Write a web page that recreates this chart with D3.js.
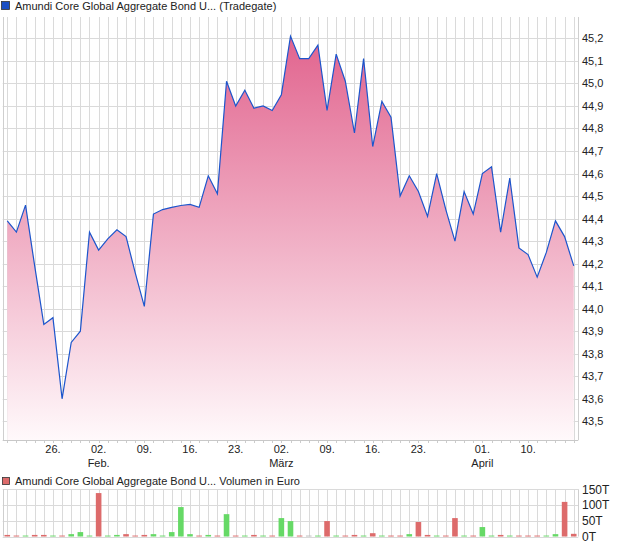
<!DOCTYPE html>
<html><head><meta charset="utf-8">
<script src="https://cdn.jsdelivr.net/npm/d3@7"></script>
<style>
body{margin:0;background:#fff}
svg{display:block}
text{font-family:"Liberation Sans",Arial,sans-serif}
</style>
</head><body>
<svg id="c" width="620" height="546"></svg>
<script>
// ---------- data ----------
const dates = [
 "2026-01-19","2026-01-20","2026-01-21","2026-01-22","2026-01-23",
 "2026-01-26","2026-01-27","2026-01-28","2026-01-29","2026-01-30",
 "2026-02-02","2026-02-03","2026-02-04","2026-02-05","2026-02-06",
 "2026-02-09","2026-02-10","2026-02-11","2026-02-12","2026-02-13",
 "2026-02-16","2026-02-17","2026-02-18","2026-02-19","2026-02-20",
 "2026-02-23","2026-02-24","2026-02-25","2026-02-26","2026-02-27",
 "2026-03-02","2026-03-03","2026-03-04","2026-03-05","2026-03-06",
 "2026-03-09","2026-03-10","2026-03-11","2026-03-12","2026-03-13",
 "2026-03-16","2026-03-17","2026-03-18","2026-03-19","2026-03-20",
 "2026-03-23","2026-03-24","2026-03-25","2026-03-26","2026-03-27",
 "2026-03-30","2026-03-31","2026-04-01","2026-04-02",
 "2026-04-07","2026-04-08","2026-04-09","2026-04-10",
 "2026-04-13","2026-04-14","2026-04-15","2026-04-16","2026-04-17"
];
const prices = [
 44.39,44.34,44.46,44.19,43.93, 43.96,43.60,43.85,43.90,44.34,
 44.26,44.31,44.35,44.32,44.16, 44.01,44.42,44.44,44.45,44.458,
 44.463,44.45,44.59,44.51,45.01, 44.90,44.97,44.89,44.90,44.88,
 44.95,45.21,45.11,45.11,45.17, 44.88,45.13,45.01,44.78,45.11,
 44.72,44.92,44.85,44.50,44.59, 44.52,44.41,44.60,44.44,44.30,
 44.52,44.42,44.60,44.63,44.34, 44.58,44.27,44.24,44.14,44.25,
 44.39,44.32,44.19
];
// volume in thousands of euro (T)
const volumes = [
 5,3,3,5,5, 3,3,7.5,14,3,
 138,3,5,7.5,3, 5,7.5,3,14,93.5,
 7.5,3,5,3,71, 3,3,5,3,3,
 58.5,49,3,3,3, 49,3,3,5,3,
 10.5,3,3,3,7.5, 46,5,3,3,58.5,
 3,3,30,3,5, 3,3,3,3,3,
 7.5,110,8.5
];
// 1 = up (green), -1 = down (red), 0 = unchanged (grey)
const volumeDir = [
 -1,-1,1,-1,-1, 1,-1,1,1,1,
 -1,1,1,-1,-1, -1,1,1,1,1,
 1,-1,1,-1,1, -1,1,-1,1,-1,
 1,1,-1,0,1, -1,1,-1,-1,1,
 -1,1,-1,-1,1, -1,-1,1,-1,-1,
 1,-1,1,1,-1, 1,-1,-1,-1,1,
 1,-1,-1
];
const priceTicks = [43.5,43.6,43.7,43.8,43.9,44.0,44.1,44.2,44.3,44.4,44.5,44.6,44.7,44.8,44.9,45.0,45.1,45.2];
const volumeTicks = [0,50,100,150];
const volumeTickLabels = ["0T","50T","100T","150T"];
const dayTickDates = ["2026-01-26","2026-02-02","2026-02-09","2026-02-16","2026-02-23","2026-03-02","2026-03-09","2026-03-16","2026-03-23","2026-04-01","2026-04-10"];
const dayTickLabels = ["26.","02.","09.","16.","23.","02.","09.","16.","23.","01.","10."];
const monthTickDates = ["2026-02-02","2026-03-02","2026-04-01"];
const monthTickLabels = ["Feb.","März","April"];
const priceTitle = "Amundi Core Global Aggregate Bond U... (Tradegate)";
const volumeTitle = "Amundi Core Global Aggregate Bond U... Volumen in Euro";

// ---------- layout ----------
const L = 2.7, R = 578.3;
const mainTop = 17, mainBottom = 440;
const volTop = 489.3, volBottom = 536.5;
const gridColor = "#dadada";
const textColor = "#222";

const svg = d3.select("#c");
const n = dates.length;
const x = d3.scaleLinear().domain([-0.5, n - 0.5]).range([L, R]);
const y = d3.scaleLinear().domain([43.417, 45.295]).range([mainBottom, mainTop]);
const yv = d3.scaleLinear().domain([0, 150]).range([volBottom, volTop]);
const idx = d => dates.indexOf(d);
const crisp = v => Math.round(v) + 0.5;

// gradient
const defs = svg.append("defs");
const grad = defs.append("linearGradient").attr("id","g")
  .attr("gradientUnits","userSpaceOnUse").attr("x1",0).attr("x2",0)
  .attr("y1",mainTop).attr("y2",mainBottom);
grad.append("stop").attr("offset","0%").attr("stop-color","#e05d89");
grad.append("stop").attr("offset","100%").attr("stop-color","#fff9fb");

// ---------- main panel ----------
// legend
svg.append("rect").attr("x",1.5).attr("y",1.5).attr("width",8).attr("height",8)
  .attr("fill","#1a4fc4").attr("stroke","#333").attr("stroke-width",0.8);
svg.append("text").attr("x",15).attr("y",10).attr("font-size",11).attr("fill",textColor).text(priceTitle);

const gMain = svg.append("g");
// vertical grid per trading day
gMain.selectAll("line.vg").data(d3.range(n)).join("line")
  .attr("x1", i => crisp(x(i))).attr("x2", i => crisp(x(i)))
  .attr("y1", mainTop).attr("y2", mainBottom)
  .attr("stroke", gridColor).attr("stroke-width",1);
// horizontal grid
gMain.selectAll("line.hg").data(priceTicks).join("line")
  .attr("x1", L).attr("x2", R)
  .attr("y1", d => crisp(y(d))).attr("y2", d => crisp(y(d)))
  .attr("stroke", gridColor).attr("stroke-width",1);
// frame sides
[L, R].forEach(px => gMain.append("line").attr("x1",crisp(px)).attr("x2",crisp(px))
  .attr("y1",mainTop).attr("y2",mainBottom).attr("stroke","#cfcfcf"));

// area + line
const area = d3.area().x((d,i) => x(i)).y0(mainBottom).y1(d => y(d));
const line = d3.line().x((d,i) => x(i)).y(d => y(d));
gMain.append("path").datum(prices).attr("d", area).attr("fill","url(#g)");
gMain.append("path").datum(prices).attr("d", line).attr("fill","none")
  .attr("stroke","#1c55cc").attr("stroke-width",1.2).attr("stroke-linejoin","miter");

// bottom axis line + small ticks
gMain.append("line").attr("x1",L).attr("x2",R).attr("y1",crisp(mainBottom)).attr("y2",crisp(mainBottom)).attr("stroke","#c8c8c8");
gMain.selectAll("line.xt").data(d3.range(n)).join("line")
  .attr("x1", i => crisp(x(i))).attr("x2", i => crisp(x(i)))
  .attr("y1", mainBottom + 1).attr("y2", mainBottom + 3)
  .attr("stroke","#cccccc");

// y labels
svg.append("g").selectAll("text").data(priceTicks).join("text")
  .attr("x", 582).attr("y", d => y(d)).attr("dy","0.36em")
  .attr("font-size",11).attr("fill",textColor)
  .text(d => d3.format(".1f")(d).replace(".", ","));

// x labels
svg.append("g").selectAll("text").data(dayTickDates).join("text")
  .attr("x", d => x(idx(d))).attr("y", 453).attr("text-anchor","middle")
  .attr("font-size",11).attr("fill",textColor)
  .text((d,i) => dayTickLabels[i]);
svg.append("g").selectAll("text").data(monthTickDates).join("text")
  .attr("x", d => x(idx(d))).attr("y", 467).attr("text-anchor","middle")
  .attr("font-size",11).attr("fill",textColor)
  .text((d,i) => monthTickLabels[i]);

// ---------- volume panel ----------
svg.append("rect").attr("x",2.5).attr("y",477.5).attr("width",7).attr("height",7)
  .attr("fill","#dd6b6b").attr("stroke","#333").attr("stroke-width",0.8);
svg.append("text").attr("x",15).attr("y",485).attr("font-size",11).attr("fill",textColor).text(volumeTitle);

const gVol = svg.append("g");
gVol.selectAll("line.vg").data(d3.range(n)).join("line")
  .attr("x1", i => crisp(x(i))).attr("x2", i => crisp(x(i)))
  .attr("y1", volTop).attr("y2", volBottom)
  .attr("stroke", gridColor);
gVol.selectAll("line.hg").data(volumeTicks).join("line")
  .attr("x1", L).attr("x2", R)
  .attr("y1", d => crisp(yv(d))).attr("y2", d => crisp(yv(d)))
  .attr("stroke", gridColor);
[L, R].forEach(px => gVol.append("line").attr("x1",crisp(px)).attr("x2",crisp(px))
  .attr("y1",volTop).attr("y2",volBottom).attr("stroke","#cfcfcf"));

const colorOf = d => d > 0 ? "#66d966" : (d < 0 ? "#dd6b6b" : "#bdbdbd");
const bw = 5.6;
gVol.selectAll("rect.bar").data(volumes).join("rect")
  .attr("x", (d,i) => x(i) - bw/2)
  .attr("width", bw)
  .attr("y", d => yv(d))
  .attr("height", d => volBottom - yv(d))
  .attr("fill", (d,i) => colorOf(volumeDir[i]));

svg.append("g").selectAll("text").data(volumeTicks).join("text")
  .attr("x", 582).attr("y", d => yv(d)).attr("dy","0.36em")
  .attr("font-size",12).attr("fill",textColor)
  .text((d,i) => volumeTickLabels[i]);
</script>
</body></html>
